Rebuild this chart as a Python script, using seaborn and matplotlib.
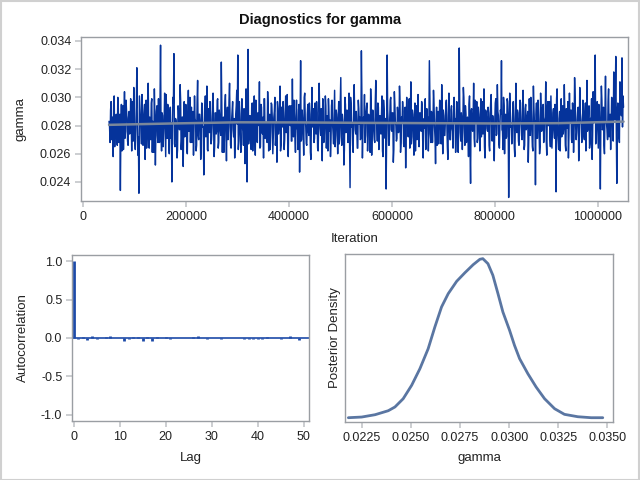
import numpy as np
import pandas as pd
import matplotlib
matplotlib.use("Agg")
import matplotlib.pyplot as plt
import seaborn as sns
from matplotlib.patches import Rectangle

# trace of gamma (in units of 1e-4), thinned draws from iteration 50000 to 1050000
# two interleaved halves: draws_a holds the odd draws, draws_b the even ones
iter_first = 50001
iter_last = 1050000
draws_a = [
    283, 268, 297, 275, 258, 301, 279, 288, 266, 292, 271, 234, 295, 281, 263, 304, 276, 290, 269, 286,
    274, 299, 262, 285, 307, 270, 281, 321, 259, 232, 293, 277, 302, 266, 288, 256, 298, 273, 310, 264,
    284, 296, 261, 279, 306, 252, 290, 273, 299, 268, 337, 262, 287, 276, 303, 258, 281, 295, 267, 289,
    271, 240, 300, 331, 265, 284, 257, 294, 278, 309, 263, 286, 251, 297, 274, 290, 260, 305, 282, 268,
    293, 275, 259, 301, 283, 266, 312, 270, 288, 256, 296, 279, 245, 291, 272, 308, 262, 285, 297, 267,
    280, 303, 258, 289, 274, 298, 264, 291, 277, 325, 261, 286, 270, 302, 255, 293, 279, 310, 266, 284,
    297, 272, 257, 288, 305, 330, 269, 283, 261, 299, 276, 292, 253, 306, 240, 334, 271, 287, 263, 296,
    278, 301, 259, 290, 268, 284, 311, 265, 293, 274, 257, 299, 282, 270, 304, 262, 288, 276, 295, 260,
    286, 300, 271, 254, 292, 279, 308, 266, 283, 297, 263, 289, 275, 302, 258, 294, 280, 269, 313, 272,
    287, 261, 298, 277, 291, 247, 326, 270, 284, 259, 303, 279, 266, 295, 273, 288, 256, 307, 281, 268,
    296, 274, 289, 262, 310, 278, 292, 255, 285, 270, 301, 264, 287, 299, 276, 258, 294, 281, 267, 305,
    273, 288, 260, 297, 279, 314, 266, 284, 252, 300, 275, 291, 268, 303, 236, 295, 282, 261, 309, 277,
    290, 264, 298, 281, 270, 333, 257, 286, 302, 273, 294, 262, 288, 279, 306, 259, 291, 276, 268, 312,
    280, 296, 263, 287, 274, 301, 258, 292, 271, 235, 330, 283, 266, 298, 277, 289, 254, 304, 282, 269,
    293, 275, 308, 261, 286, 297, 267, 283, 250, 300, 278, 291, 264, 311, 272, 288, 259, 296, 280, 270,
    302, 265, 289, 276, 294, 257, 285, 299, 271, 282, 262, 326, 274, 290, 268, 305, 279, 253, 293, 284,
    267, 298, 277, 309, 260, 287, 273, 295, 282, 256, 303, 270, 291, 278, 264, 300, 285, 272, 296, 261,
    335, 275, 289, 263, 307, 280, 294, 268, 286, 258, 301, 239, 292, 276, 310, 265, 283, 297, 271, 288,
    262, 299, 281, 274, 306, 257, 290, 278, 293, 266, 285, 302, 269, 281, 255, 296, 273, 309, 287, 264,
    291, 326, 276, 300, 260, 288, 272, 297, 229, 303, 279, 267, 294, 283, 258, 310, 275, 289, 266, 298,
    281, 270, 305, 263, 292, 277, 286, 254, 299, 273, 290, 265, 308, 282, 238, 296, 271, 287, 260, 303,
    276, 293, 268, 284, 311, 259, 297, 280, 272, 301, 264, 289, 277, 295, 233, 306, 270, 285, 262, 299,
    283, 274, 309, 266, 292, 278, 257, 303, 287, 270, 296, 261, 314, 280, 275, 291, 255, 307, 284, 268,
    298, 273, 289, 262, 312, 279, 294, 267, 286, 256, 304, 283, 330, 271, 297, 264, 290, 235, 308, 277,
    293, 260, 315, 281, 270, 306, 287, 263, 300, 276, 318, 284, 329, 239, 296, 272, 311, 289, 328, 301,
]
draws_b = [
    279, 291, 270, 286, 296, 265, 283, 274, 300, 268, 288, 277, 262, 294, 281, 271, 298, 285, 266, 290,
    276, 287, 297, 269, 282, 263, 293, 279, 272, 301, 284, 267, 289, 275, 295, 280, 264, 292, 278, 286,
    270, 299, 283, 261, 287, 276, 294, 268, 281, 297, 273, 289, 265, 284, 278, 302, 271, 288, 260, 293,
    282, 274, 296, 267, 285, 279, 263, 291, 277, 298, 269, 286, 281, 272, 295, 264, 289, 276, 300, 283,
    268, 290, 278, 285, 262, 297, 273, 288, 282, 266, 294, 279, 271, 301, 284, 263, 292, 275, 287, 270,
    296, 281, 265, 289, 276, 299, 268, 284, 273, 292, 280, 261, 295, 278, 286, 270, 298, 283, 264, 290,
    277, 285, 269, 294, 281, 263, 297, 274, 288, 279, 266, 291, 283, 272, 300, 267, 287, 278, 293, 262,
    284, 275, 298, 270, 289, 280, 264, 295, 276, 286, 299, 271, 282, 268, 292, 279, 263, 296, 285, 273,
    290, 266, 281, 297, 274, 288, 262, 293, 279, 284, 270, 301, 277, 265, 289, 283, 294, 269, 280, 298,
    272, 286, 278, 263, 295, 282, 269, 291, 275, 300, 284, 267, 288, 276, 296, 261, 285, 279, 292, 271,
    283, 297, 264, 280, 290, 273, 286, 299, 268, 281, 294, 277, 262, 289, 284, 270, 298, 275, 287, 265,
    291, 278, 284, 267, 296, 272, 288, 281, 263, 295, 276, 290, 283, 269, 300, 279, 266, 293, 285, 274,
    280, 264, 292, 286, 271, 299, 277, 283, 268, 289, 296, 273, 282, 261, 294, 278, 287, 270, 297, 284,
    269, 293, 281, 275, 288, 262, 298, 279, 285, 272, 291, 266, 284, 300, 276, 289, 263, 295, 280, 271,
    287, 276, 296, 268, 282, 290, 265, 293, 279, 286, 272, 299, 283, 267, 291, 278, 285, 262, 294, 281,
    274, 289, 282, 297, 270, 284, 278, 263, 292, 286, 275, 301, 268, 288, 280, 295, 271, 283, 266, 290,
    279, 296, 267, 285, 291, 273, 282, 298, 264, 287, 280, 270, 294, 276, 289, 283, 261, 297, 274, 286,
    292, 269, 284, 278, 300, 266, 288, 281, 275, 295, 263, 290, 279, 286, 271, 298, 282, 268, 293, 277,
    285, 272, 297, 280, 265, 291, 284, 276, 289, 262, 296, 279, 287, 270, 283, 299, 274, 290, 267, 281,
    288, 277, 263, 294, 282, 271, 299, 286, 268, 292, 280, 275, 297, 264, 285, 278, 291, 269, 284, 296,
    273, 287, 281, 266, 295, 279, 290, 270, 284, 300, 276, 262, 293, 283, 288, 271, 298, 278, 265, 289,
    282, 295, 274, 286, 269, 291, 280, 297, 265, 284, 278, 292, 271, 287, 299, 276, 263, 290, 283, 272,
    294, 279, 288, 262, 285, 297, 273, 282, 291, 268, 286, 277, 300, 270, 284, 293, 266, 289, 280, 275,
    287, 270, 296, 281, 276, 290, 264, 285, 299, 273, 282, 292, 267, 288, 279, 295, 271, 284, 298, 278,
    266, 291, 283, 277, 297, 272, 288, 280, 294, 269, 286, 301, 275, 290, 283, 268, 296, 287, 279, 293,
]

# smoothed mean line over the trace
smooth_iter = [50000, 175000, 300000, 425000, 550000, 675000, 800000, 925000, 1050000]
smooth_gamma = [0.02805, 0.02815, 0.02823, 0.02822, 0.02819, 0.02817, 0.02815, 0.02817, 0.02828]

# autocorrelation by lag
lags = list(range(51))
acf = [1.0, -0.01, 0.01, -0.02, 0.03, -0.01, 0.0, 0.01, 0.02, 0.0,
       0.0, -0.04, -0.01, 0.01, 0.01, -0.04, 0.01, -0.04, 0.01, 0.0,
       0.01, -0.01, 0.005, 0.005, 0.0, 0.0, 0.01, 0.02, 0.0, -0.01,
       -0.005, 0.0, -0.01, 0.0, -0.005, -0.005, 0.0, -0.015, -0.01, -0.01,
       -0.01, -0.01, 0.01, -0.005, -0.005, -0.01, 0.0, 0.02, 0.005, -0.02, 0.0]

# posterior density curve
dens_x = [0.02182, 0.02250, 0.02318, 0.02385, 0.02419, 0.02461, 0.02504, 0.02546,
          0.02588, 0.02622, 0.02656, 0.02690, 0.02733, 0.02775, 0.02817, 0.02851,
          0.02866, 0.02892, 0.02917, 0.02943, 0.02968, 0.03002, 0.03027, 0.03053,
          0.03095, 0.03137, 0.03180, 0.03231, 0.03281, 0.03349, 0.03417, 0.03476]
dens_y = [0.5, 1.6, 5.4, 11.9, 18.0, 31.5, 53.4, 80.5,
          113.1, 148.5, 181.2, 202.9, 223.1, 237.1, 250.2, 259.0,
          260.0, 251.8, 232.9, 202.9, 173.0, 143.1, 118.6, 96.8,
          72.3, 50.6, 31.5, 15.2, 6.0, 2.1, 0.5, 0.5]

sns.set_style("white")
plt.rcParams['font.family'] = ['Liberation Sans', 'DejaVu Sans']

frame_col = "#9a9ea3"
text_col = "#222222"

draws = np.column_stack((draws_a, draws_b)).ravel() / 1e4
trace = pd.DataFrame({"Iteration": np.linspace(iter_first, iter_last, len(draws)),
                      "gamma": draws})
smooth = pd.DataFrame({"Iteration": smooth_iter, "gamma": smooth_gamma})
dens = pd.DataFrame({"gamma": dens_x, "density": dens_y})

fig = plt.figure(figsize=(6.4, 4.8), dpi=100)
fig.add_artist(Rectangle((0.001, 0.001), 0.997, 0.997, transform=fig.transFigure,
                         fill=False, edgecolor="#d0d0d0", linewidth=1.5))

ax1 = fig.add_axes([81/640, 1-201/480, 547/640, 164/480])
ax2 = fig.add_axes([72/640, 1-421/480, 237/640, 166/480])
ax3 = fig.add_axes([345/640, 1-422/480, 268/640, 168/480])

#Trace plot
sns.lineplot(data=trace, x="Iteration", y="gamma", ax=ax1, color="#05339b",
             linewidth=1.05, estimator=None, sort=False)
sns.lineplot(data=smooth, x="Iteration", y="gamma", ax=ax1, color="#7a879a",
             linewidth=1.8, estimator=None)
ax1.set_xlim(-4500, 1058700)
ax1.set_ylim(0.02265, 0.03428)
ax1.set_xticks([0, 200000, 400000, 600000, 800000, 1000000])
ax1.set_xticklabels(["0", "200000", "400000", "600000", "800000", "1000000"])
ax1.set_yticks([0.024, 0.026, 0.028, 0.030, 0.032, 0.034])
ax1.set_yticklabels(["0.024", "0.026", "0.028", "0.030", "0.032", "0.034"])
ax1.set_xlabel("Iteration")
ax1.set_ylabel("gamma")
ax1.xaxis.set_label_coords(0.5, -0.232)
ax1.yaxis.set_label_coords(-0.1115, 0.5)

#Autocorrelation
ax2.axhline(0, color="#1d4aa8", linewidth=1.2, zorder=1)
ax2.vlines(lags, 0, acf, color="#1d4aa8", linewidth=2.0, zorder=2)
ax2.set_xlim(-0.35, 51.1)
ax2.set_ylim(-1.078, 1.078)
ax2.set_xticks([0, 10, 20, 30, 40, 50])
ax2.set_yticks([-1.0, -0.5, 0.0, 0.5, 1.0])
ax2.set_yticklabels(["-1.0", "-0.5", "0.0", "0.5", "1.0"])
ax2.set_xlabel("Lag")
ax2.set_ylabel("Autocorrelation")
ax2.xaxis.set_label_coords(0.5, -0.223)
ax2.yaxis.set_label_coords(-0.205, 0.5)

#Posterior density
sns.lineplot(data=dens, x="gamma", y="density", ax=ax3, color="#5a76a2",
             linewidth=2.0, estimator=None, sort=False)
ax3.set_xlim(0.02165, 0.03528)
ax3.set_ylim(-6.5, 267.6)
ax3.set_xticks([0.0225, 0.0250, 0.0275, 0.0300, 0.0325, 0.0350])
ax3.set_xticklabels(["0.0225", "0.0250", "0.0275", "0.0300", "0.0325", "0.0350"])
ax3.set_yticks([])
ax3.set_xlabel("gamma")
ax3.set_ylabel("Posterior Density")
ax3.xaxis.set_label_coords(0.5, -0.214)
ax3.yaxis.set_label_coords(-0.037, 0.5)

for ax in (ax1, ax2, ax3):
    for sp in ax.spines.values():
        sp.set_visible(True)
        sp.set_color(frame_col)
        sp.set_linewidth(1.0)
    ax.tick_params(axis="both", direction="out", length=4, width=1.2, color="#c3c6ca",
                   labelsize=9, labelcolor=text_col, pad=3)
    for lab in (ax.xaxis.label, ax.yaxis.label):
        lab.set_size(9.5)
        lab.set_color(text_col)
        lab.set_va("center")
        lab.set_ha("center")
    ax.grid(False)
ax1.tick_params(left=True, bottom=True)
ax2.tick_params(left=True, bottom=True)
ax3.tick_params(left=False, bottom=True)

fig.text(0.5, 1-20/480, "Diagnostics for gamma", ha="center", va="center",
         fontsize=10.5, fontweight="bold", color="#111111")

fig.savefig("out.png", dpi=100)
